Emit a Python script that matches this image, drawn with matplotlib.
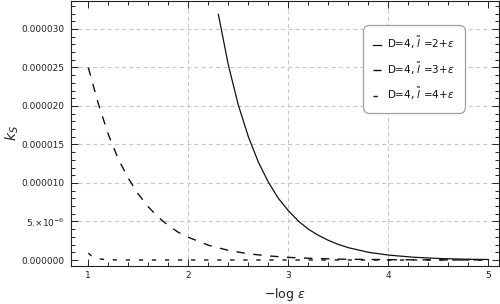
import matplotlib
matplotlib.use("Agg")
import matplotlib.pyplot as plt
from matplotlib.ticker import FixedLocator, FixedFormatter, MultipleLocator

plt.rcParams['font.family'] = ['DejaVu Sans']
plt.rcParams['mathtext.fontset'] = 'dejavusans'
plt.rcParams['lines.scale_dashes'] = False

# ---- data ----
x_l2 = [2.30, 2.40, 2.50, 2.60, 2.70, 2.80, 2.90, 3.00, 3.10, 3.20, 3.30, 3.40, 3.50,
        3.60, 3.80, 4.00, 4.25, 4.50, 4.75, 5.00]
k_l2 = [3.19e-5, 2.53e-5, 2.01e-5, 1.60e-5, 1.27e-5, 1.01e-5, 8.0e-6, 6.4e-6, 5.05e-6,
        4.0e-6, 3.2e-6, 2.55e-6, 2.02e-6, 1.6e-6, 1.0e-6, 0.64e-6, 0.36e-6, 0.2e-6,
        0.11e-6, 0.064e-6]

x_l3 = [1.0, 1.1, 1.2, 1.3, 1.4, 1.5, 1.6, 1.7, 1.8, 1.9, 2.0, 2.2, 2.4, 2.6, 2.8,
        3.0, 3.25, 3.5, 4.0, 4.5, 5.0]
k_l3 = [25.0e-6, 20.3e-6, 16.3e-6, 13.1e-6, 10.6e-6, 8.55e-6, 6.9e-6, 5.55e-6, 4.47e-6,
        3.6e-6, 2.95e-6, 1.92e-6, 1.25e-6, 0.81e-6, 0.53e-6, 0.34e-6, 0.20e-6, 0.116e-6,
        0.039e-6, 0.013e-6, 0.0045e-6]

x_l4 = [1.0, 1.03, 1.06, 1.10, 1.15, 1.20, 1.30, 1.50, 2.0, 3.0, 4.0, 5.0]
k_l4 = [0.90e-6, 0.55e-6, 0.33e-6, 0.18e-6, 0.08e-6, 0.035e-6, 0.007e-6, 0.0003e-6,
        0.0, 0.0, 0.0, 0.0]

labels = [r"D=4, $\tilde{l}$ =2+$\epsilon$",
          r"D=4, $\tilde{l}$ =3+$\epsilon$",
          r"D=4, $\tilde{l}$ =4+$\epsilon$"]

y_ticks = [0.0, 5e-6, 1e-5, 1.5e-5, 2e-5, 2.5e-5, 3e-5]
y_ticklabels = ["0.000000", r"5.$\times$10$^{-6}$", "0.000010", "0.000015",
                "0.000020", "0.000025", "0.000030"]
x_ticks = [1, 2, 3, 4, 5]
x_ticklabels = ["1", "2", "3", "4", "5"]
x_grid = [2, 3, 4]
y_grid = [5e-6, 1e-5, 1.5e-5, 2e-5, 2.5e-5, 3e-5]

# ---- figure ----
W, H = 500, 304
fig = plt.figure(figsize=(W / 100, H / 100), dpi=100)
L, R, T, B = 70.7, 498.5, 0.5, 265.7
ax = fig.add_axes([L / W, 1 - B / H, (R - L) / W, (B - T) / H])

ax.set_xlim(0.824, 5.10)
ax.set_ylim(-0.74e-6, 3.370e-5)

gridkw = dict(color='#c8c8c8', lw=0.8, dashes=(3.0, 2.2), zorder=0)
for gx in x_grid:
    ax.axvline(gx, **gridkw)
for gy in y_grid:
    ax.axhline(gy, **gridkw)

lc = '#111111'
ax.plot(x_l2, k_l2, color=lc, lw=0.9, solid_joinstyle='round', label=labels[0])
ax.plot(x_l3, k_l3, color=lc, lw=1.0, dashes=(6.1, 6.1), label=labels[1])
ax.plot(x_l4, k_l4, color=lc, lw=1.0, dashes=(3.1, 6.3), label=labels[2])

# ticks
tc = '#222222'
ax.xaxis.set_major_locator(FixedLocator(x_ticks))
ax.xaxis.set_major_formatter(FixedFormatter(x_ticklabels))
ax.xaxis.set_minor_locator(MultipleLocator(0.2))
ax.yaxis.set_major_locator(FixedLocator(y_ticks))
ax.yaxis.set_major_formatter(FixedFormatter(y_ticklabels))
ax.yaxis.set_minor_locator(MultipleLocator(1e-6))
ax.tick_params(which='both', direction='in', top=True, right=True, color=tc,
               width=0.7, labelsize=6.5, labelcolor=tc)
ax.tick_params(which='major', length=5)
ax.tick_params(which='minor', length=2.6)
ax.tick_params(axis='y', pad=4.5)
ax.tick_params(axis='x', pad=4.0)
for s in ax.spines.values():
    s.set_color(tc)
    s.set_linewidth(0.8)

ax.set_xlabel(r"$-$log $\epsilon$", fontsize=9, color=tc, labelpad=4)
ax.set_ylabel(r"$k_S$", fontsize=10, color=tc, rotation=90, va='center')
ax.yaxis.set_label_coords((12 - L) / (R - L), 0.5)

leg = ax.legend(loc='upper left',
                bbox_to_anchor=((362.7 - L) / (R - L), (B - 25) / (B - T)),
                borderaxespad=0, fontsize=7.5, handlelength=0.75,
                handletextpad=0.6, labelspacing=0.9, borderpad=1.0,
                fancybox=True, framealpha=1, edgecolor='#a0a0a0')
leg.get_frame().set_linewidth(0.9)
leg.get_frame().set_boxstyle('round', pad=0, rounding_size=0.6)
for t in leg.get_texts():
    t.set_color('#111111')

fig.savefig('out.png', dpi=100)
